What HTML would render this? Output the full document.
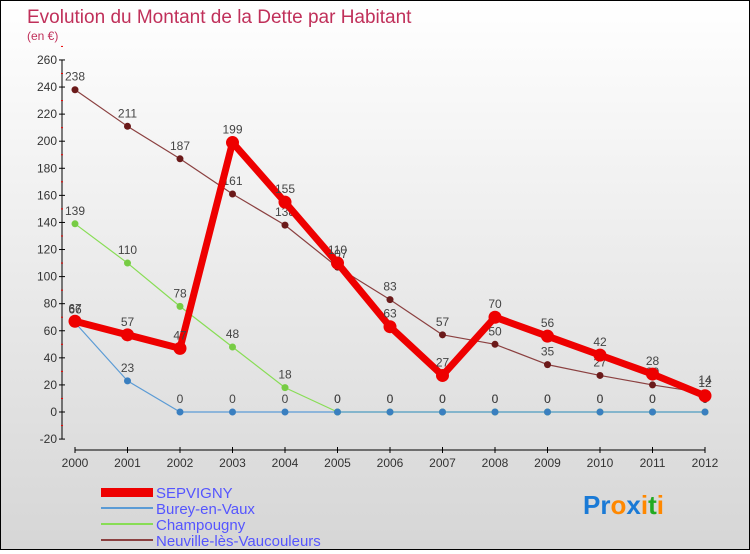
<!DOCTYPE html>
<html><head><meta charset="utf-8"><style>
body{margin:0;width:750px;height:550px;overflow:hidden;font-family:"Liberation Sans",sans-serif}
#wrap{position:relative;width:748px;height:548px;border:1px solid #000;background:linear-gradient(#ffffff,#d6d6d6)}
</style></head><body>
<div id="wrap">
<svg id="chart" width="748" height="548">
<text x="26" y="22" font-size="19" fill="#c0305a">Evolution du Montant de la Dette par Habitant</text>
<text x="26" y="39" font-size="12" fill="#c0305a">(en €)</text>
<g id="axes"></g><g id="series"></g>
<g>
<rect x="100" y="487" width="52" height="9" fill="#ee0000"/>
<text x="155" y="497" font-size="15" fill="#5555ff">SEPVIGNY</text>
<rect x="100" y="506" width="52" height="2" fill="#5b9bd5"/>
<text x="155" y="513" font-size="15" fill="#5555ff">Burey-en-Vaux</text>
<rect x="100" y="522" width="52" height="2" fill="#88dd55"/>
<text x="155" y="529" font-size="15" fill="#5555ff">Champougny</text>
<rect x="100" y="538" width="52" height="2" fill="#8b4040"/>
<text x="155" y="545" font-size="15" fill="#5555ff">Neuville-lès-Vaucouleurs</text>
</g>
<text x="582" y="513" font-size="26" font-weight="bold"><tspan fill="#1a7ad6">Pr</tspan><tspan fill="#ff8800">o</tspan><tspan fill="#1a7ad6">x</tspan><tspan fill="#ff8800">i</tspan><tspan fill="#22aa22">t</tspan><tspan fill="#ff8800">i</tspan></text>
</svg></div>
<script>
const years=[2000,2001,2002,2003,2004,2005,2006,2007,2008,2009,2010,2011,2012];
const yTicks=[-20,0,20,40,60,80,100,120,140,160,180,200,220,240,260];
const sepvigny=[67,57,47,199,155,110,63,27,70,56,42,28,12];
const burey=[66,23,0,0,0,0,0,0,0,0,0,0,0];
const champougny=[139,110,78,48,18,0,0,0,0,0,0,0,0];
const neuville=[238,211,187,161,138,107,83,57,50,35,27,20,14];
const NS="http://www.w3.org/2000/svg";
function X(i){return 74+i*52.5;}
function Y(v){return 411-v*1.354;}
function mk(tag,attrs,parent){const e=document.createElementNS(NS,tag);for(const k in attrs)e.setAttribute(k,attrs[k]);parent.appendChild(e);return e;}
const ax=document.getElementById('axes'),se=document.getElementById('series');
let a=mk('line',{x1:61,y1:Y(260),x2:61,y2:Y(-20),stroke:'#000'},ax);


yTicks.forEach(v=>{
 mk('line',{x1:58,y1:Y(v),x2:64,y2:Y(v),stroke:'#000'},ax);
 mk('line',{x1:60,y1:Y(v+10),x2:62,y2:Y(v+10),stroke:'#e00'},ax);
 const t=mk('text',{x:56,y:Y(v)+4,'font-size':12,fill:'#333','text-anchor':'end'},ax);t.textContent=v;
 
 
});
a=mk('line',{x1:X(0),y1:449,x2:X(12),y2:449,stroke:'#000'},ax);


years.forEach((y,i)=>{
 mk('line',{x1:X(i),y1:446,x2:X(i),y2:452,stroke:'#000'},ax);
 const t=mk('text',{x:X(i),y:466,'font-size':12,fill:'#333','text-anchor':'middle'},ax);t.textContent=y;
 
 
});
function draw(data,name,color,w,r,dot){
 const g=mk('g',{},se);
 
 
 mk('polyline',{points:data.map((v,i)=>X(i)+','+Y(v)).join(' '),fill:'none',stroke:color,'stroke-width':w,'stroke-linejoin':'round'},g);
 data.forEach((v,i)=>{
  const c=mk('circle',{cx:X(i),cy:Y(v),r:r,fill:dot},g);
  
  
  const t=mk('text',{x:X(i),y:Y(v)-9,'font-size':12,fill:'#444','text-anchor':'middle'},g);t.textContent=v;
  
  
 });
}
draw(neuville,'neuville','#8b4040',1.2,3.5,'#6b1a1a');
draw(champougny,'champougny','#88dd55',1.2,3.5,'#77cc44');
draw(burey,'burey','#5b9bd5',1.2,3.5,'#3a7fc0');
draw(sepvigny,'sepvigny','#ee0000',7,6.5,'#ee0000');
</script>
</body></html>
